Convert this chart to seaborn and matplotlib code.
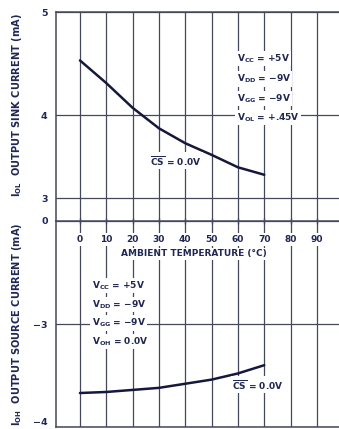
import numpy as np
import pandas as pd
import matplotlib
matplotlib.use("Agg")
import matplotlib.pyplot as plt
import seaborn as sns

# ---- data ----
temp = [0, 10, 20, 30, 40, 50, 60, 70]
iol_sink = [4.53, 4.31, 4.07, 3.84, 3.66, 3.52, 3.37, 3.28]
ioh_source = [-3.67, -3.66, -3.64, -3.62, -3.58, -3.54, -3.48, -3.40]
x_ticks = [0, 10, 20, 30, 40, 50, 60, 70, 80, 90]
top_yticks = [3, 4, 5]
top_ylabels = ["3", "4", "5"]
bot_yticks = [-4, -3, -2]
bot_ylabels = ["\u22124", "\u22123", "0"]
MINUS = "\u2212"
top_notes = [r"$V_{CC}$ = +5V", r"$V_{DD}$ = " + MINUS + "9V",
             r"$V_{GG}$ = " + MINUS + "9V", r"$V_{OL}$ = +.45V"]
bot_notes = [r"$V_{CC}$ = +5V", r"$V_{DD}$ = " + MINUS + "9V",
             r"$V_{GG}$ = " + MINUS + "9V", r"$V_{OH}$ = 0.0V"]

sns.set_theme(style="white")
plt.rcParams["font.family"] = ["DejaVu Sans"]
plt.rcParams["font.weight"] = "bold"
plt.rcParams["mathtext.fontset"] = "dejavusans"
plt.rcParams["mathtext.default"] = "bf"

LINE = "#45485c"
TEXT = "#1f2752"
CURVE = "#15183a"

W, H = 339, 429
fig = plt.figure(figsize=(W / 100, H / 100), dpi=100)
fig.patch.set_facecolor("white")

def fx(px):
    return px / W

def fy(py):
    return 1 - py / H

left = fx(56)
width = 1 - left
ax1 = fig.add_axes([left, fy(221), width, (221 - 12) / H])
ax2 = fig.add_axes([left, fy(427), width, (427 - 221) / H])

# piecewise-linear scale of the printed chart (5 -> 12px, 4 -> 115px, 3 -> 198px)
vals = [0, 3, 4, 5, 10]
pix = [-447, -198, -115, -12, 503]

def fwd(v):
    return np.interp(v, vals, pix)

def inv(p):
    return np.interp(p, pix, vals)

ax1.set_yscale("function", functions=(fwd, inv))

df1 = pd.DataFrame({"T": temp, "I": iol_sink})
df2 = pd.DataFrame({"T": temp, "I": ioh_source})
sns.lineplot(data=df1, x="T", y="I", ax=ax1, color=CURVE, linewidth=1.8, zorder=4)
sns.lineplot(data=df2, x="T", y="I", ax=ax2, color=CURVE, linewidth=1.8, zorder=4)

xmin, xmax = -9.1, 98.4
for ax in (ax1, ax2):
    ax.set_xlim(xmin, xmax)
    ax.set_xticks(x_ticks)
    ax.set_xlabel("")
    ax.set_ylabel("")
    ax.set_axisbelow(True)
    ax.grid(True, color=LINE, linewidth=0.9)
    ax.spines["right"].set_visible(False)
    for s in ("left", "top", "bottom"):
        ax.spines[s].set_color(LINE)
        ax.spines[s].set_linewidth(1.1)
    ax.tick_params(axis="y", length=0, pad=6, labelsize=6.8, labelcolor=TEXT)
    ax.set_facecolor("white")

ax1.set_ylim(2.723, 5)
ax1.set_yticks(top_yticks)
ax1.set_yticklabels(top_ylabels)
ax1.spines["bottom"].set_visible(False)
ax1.tick_params(axis="x", length=0, labelbottom=False)

ax2.set_ylim(-4, -2)
ax2.set_yticks(bot_yticks)
ax2.set_yticklabels(bot_ylabels)
ax2.get_yticklabels()[0].set_va("bottom")
ax2.xaxis.set_ticks_position("top")
ax2.tick_params(axis="x", direction="inout", length=5, width=1, color=LINE,
                top=True, labeltop=True, bottom=False, labelbottom=False,
                pad=-19, labelsize=6.5, labelcolor=TEXT)
for lab in ax2.get_xticklabels():
    lab.set_bbox(dict(facecolor="white", edgecolor="none", pad=1.2))

ax2.text(0.488, 0.84, "AMBIENT TEMPERATURE (\u00b0C)", transform=ax2.transAxes,
         ha="center", va="center", fontsize=6.5, color=TEXT, zorder=5,
         bbox=dict(facecolor="white", edgecolor="none", pad=1.2))

box = dict(facecolor="white", edgecolor="none", pad=1.0)
for txt, yv in zip(top_notes, [4.55, 4.35, 4.16, 3.97]):
    ax1.text(59.5, yv, txt, ha="left", va="center", fontsize=6.5, color=TEXT,
             zorder=5, bbox=box)
ax1.text(26.6, 3.45, r"$\overline{CS}$ = 0.0V", ha="left", va="center",
         fontsize=6.5, color=TEXT, zorder=5, bbox=box)

for txt, yv in zip(bot_notes, [-2.63, -2.81, -2.99, -3.17]):
    ax2.text(4.4, yv, txt, ha="left", va="center", fontsize=6.5, color=TEXT,
             zorder=5, bbox=box)
ax2.text(57.7, -3.59, r"$\overline{CS}$ = 0.0V", ha="left", va="center",
         fontsize=6.5, color=TEXT, zorder=5, bbox=box)

fig.text(fx(17), fy(105), r"$I_{OL}$  OUTPUT SINK CURRENT (mA)", rotation=90,
         ha="center", va="center", fontsize=7.1, color=TEXT)
fig.text(fx(17), fy(324), r"$I_{OH}$  OUTPUT SOURCE CURRENT (mA)", rotation=90,
         ha="center", va="center", fontsize=7.1, color=TEXT)

fig.savefig("out.png", dpi=100, facecolor="white")
